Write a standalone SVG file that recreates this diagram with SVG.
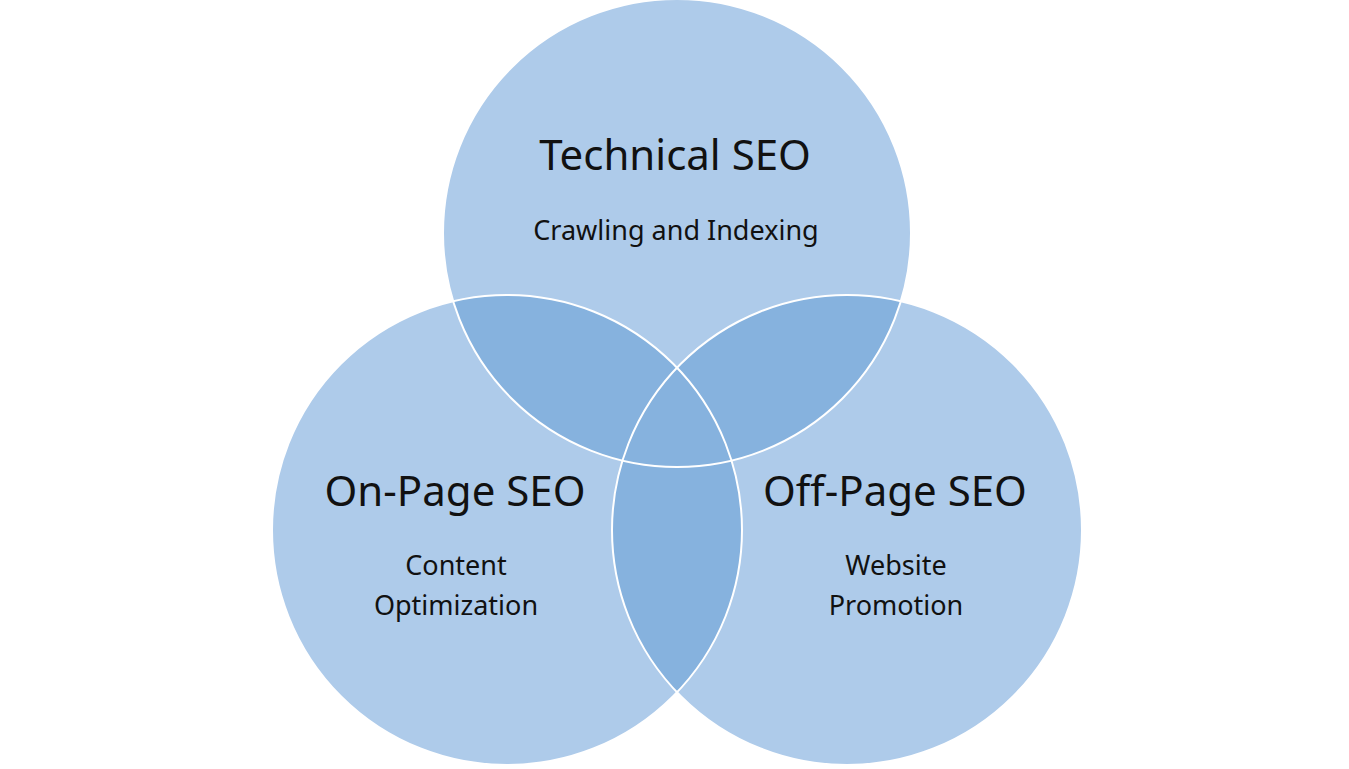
<svg xmlns="http://www.w3.org/2000/svg" width="1349" height="769" viewBox="0 0 1349 769">
<defs>
<style>
.c{fill:#aecbea}
.o{fill:#86b2de}
.s{fill:none;stroke:#ffffff;stroke-width:2}
text{font-family:"Noto Sans","Open Sans",sans-serif;fill:#111;text-anchor:middle}
.t{font-size:42px}
.u{font-size:27px}
</style>
<clipPath id="cT"><circle cx="677" cy="233" r="234"/></clipPath>
<clipPath id="cL"><circle cx="507" cy="530" r="235"/></clipPath>
<clipPath id="cR"><circle cx="847" cy="530" r="235"/></clipPath>
</defs>
<rect width="1349" height="769" fill="#ffffff"/>
<g id="top"><circle class="c" cx="677" cy="233" r="234"/></g>
<g id="left"><circle class="c" cx="507" cy="530" r="235"/></g>
<g id="right"><circle class="c" cx="847" cy="530" r="235"/></g>
<g id="overlaps">
<circle class="o" cx="677" cy="233" r="234" clip-path="url(#cL)"/>
<circle class="o" cx="677" cy="233" r="234" clip-path="url(#cR)"/>
<circle class="o" cx="507" cy="530" r="235" clip-path="url(#cR)"/>
</g>
<g id="outlines">
<circle class="s" cx="677" cy="233" r="234"/>
<circle class="s" cx="507" cy="530" r="235"/>
<circle class="s" cx="847" cy="530" r="235"/>
</g>
<g id="labels">
<text class="t" x="675" y="170">Technical SEO</text>
<text class="u" x="676" y="240">Crawling and Indexing</text>
<text class="t" x="455" y="506">On-Page SEO</text>
<text class="u" x="456" y="575">Content</text>
<text class="u" x="456" y="615">Optimization</text>
<text class="t" x="895" y="506">Off-Page SEO</text>
<text class="u" x="896" y="575">Website</text>
<text class="u" x="896" y="615">Promotion</text>
</g>
</svg>
